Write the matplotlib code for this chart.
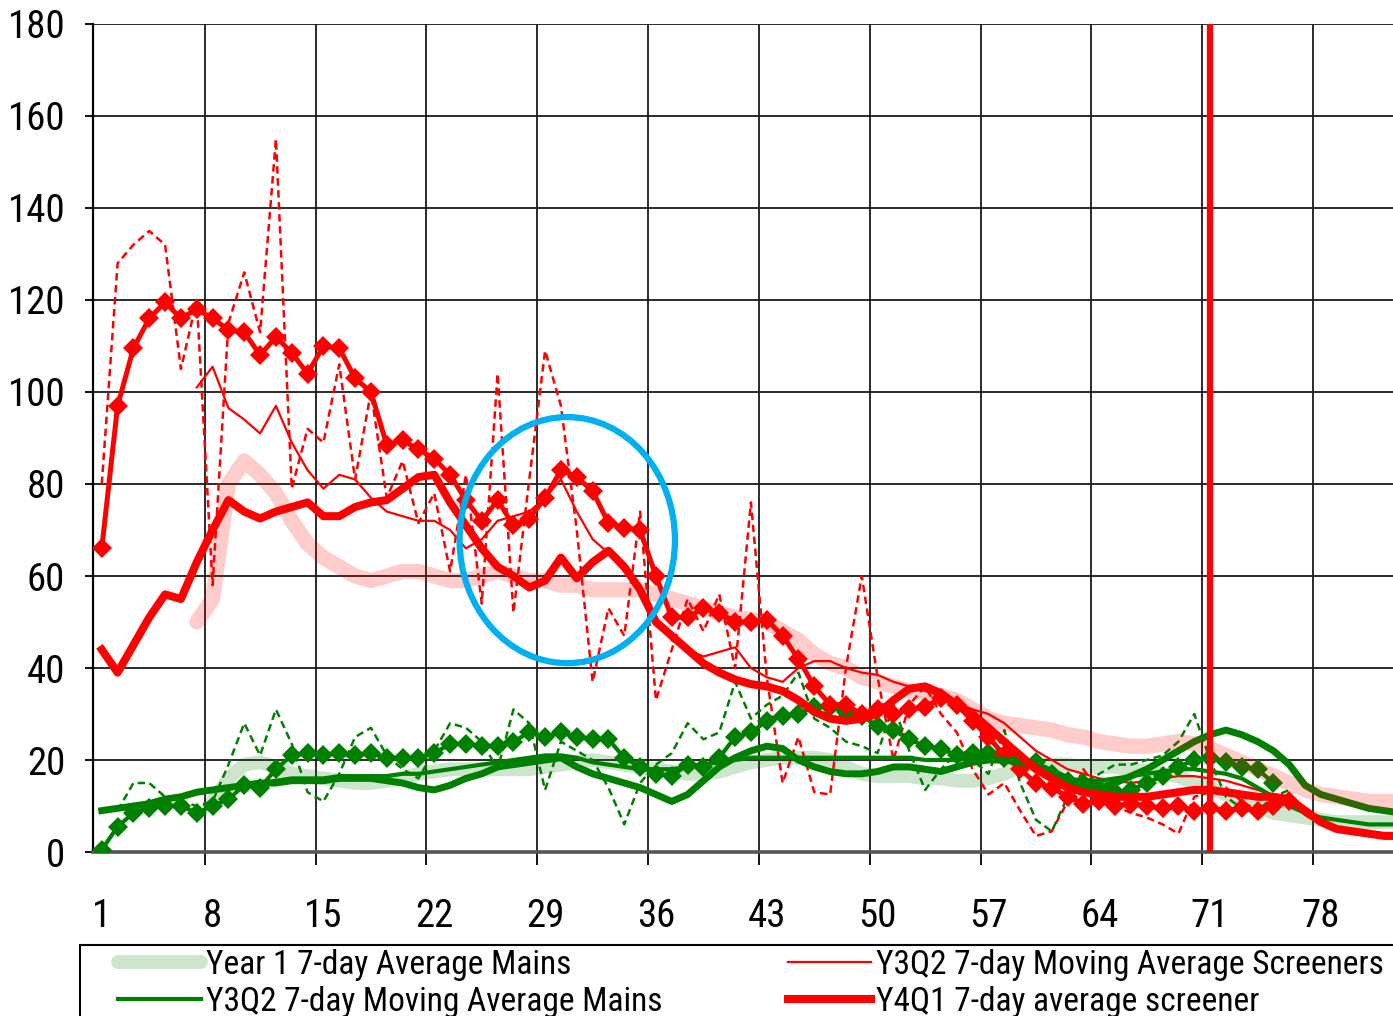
import numpy as np
import matplotlib
matplotlib.use("Agg")
import matplotlib.pyplot as plt
from matplotlib import font_manager
from matplotlib.patches import Ellipse, Rectangle

# narrow face like the original (Arial Narrow); take the first one installed
available = {f.name for f in font_manager.fontManager.ttflist}
narrow = [n for n in ["Liberation Sans Narrow", "Arial Narrow", "Roboto Condensed",
                      "Archivo Narrow", "PT Sans Narrow"] if n in available]
plt.rcParams["font.family"] = narrow[:1] + ["Liberation Sans", "DejaVu Sans"]

# ---- data (day index starts at the given day) ----
year1_screeners_start = 7
year1_screeners = [50, 55, 80, 85, 82, 78, 72, 67, 64, 62, 60, 59, 60, 61, 61, 60, 59, 59, 60, 61,
                   60, 59, 59, 58, 58, 57, 57, 57, 57, 56, 55, 54, 53, 52, 51, 50.5, 50, 48, 46, 43,
                   41, 40, 38, 37, 36, 35, 34.5, 34, 33, 31, 29, 28, 27.5, 27, 26.5, 25.5, 25, 24,
                   23.5, 23, 23, 23.5, 24, 23.5, 22.5, 21, 19.5, 18, 16.5, 15, 13.5, 12.5, 12, 11.5,
                   11, 11, 11]

year1_mains_start = 8
year1_mains = [11, 16, 19, 19.5, 18.5, 17, 16.5, 16, 15.5, 15, 15, 15.5, 16, 17, 17.5, 18, 18, 18,
               18, 18, 18, 18.5, 19, 19.5, 20, 19.5, 19, 18.5, 18, 17.5, 17, 17, 17.5, 18.5, 19.5,
               20, 20.5, 20.5, 20.5, 20, 18.5, 17, 16.5, 16.5, 16.5, 16, 16, 15.5, 15.5, 16, 17,
               18.5, 19, 19, 19, 18.5, 18.5, 18.5, 18, 17.5, 17, 16.5, 15, 14, 12.5, 11, 10, 8.5,
               8, 7.5, 7, 6.5, 6.5, 6.5, 6.5, 6.5]

y3q2_screeners_daily_start = 1
y3q2_screeners_daily = [80, 128, 132, 135, 132, 105, 120, 58, 115, 126, 113, 155, 79, 92, 89, 106,
                        81, 100, 77, 85, 71.5, 78, 61, 82, 54, 104, 52, 81, 109, 97, 70, 37, 53, 47,
                        74, 33, 44, 55, 48, 56, 40, 76, 38, 15, 25, 13, 12.5, 40, 60, 38, 20, 32, 36,
                        30, 26, 18, 12.5, 15, 9, 3.5, 4.5, 11, 18, 13, 10, 8.5, 7.5, 6, 4, 12, 13,
                        14, 11, 9, 11, 12]

y3q2_mains_daily_start = 2
y3q2_mains_daily = [9, 15, 15, 12, 11, 10, 11, 19, 28, 21, 31, 23.5, 13, 11, 17, 25, 27, 21, 18, 16,
                    22, 28, 27, 24, 18, 31, 28, 13.5, 24, 22, 20, 14, 6, 15, 19, 21.5, 28, 24.5, 26,
                    37, 29, 32, 34, 39, 29, 27, 24, 23, 21.5, 32, 22, 13.5, 18, 21.5, 20, 17, 26.5,
                    15, 7, 4.5, 12, 15, 17, 19, 19, 20, 21, 24, 30, 20, 12, 9.5, 9, 12, 13.5]

y3q2_screeners_ma_start = 7
y3q2_screeners_ma = [101, 105.5, 96.5, 94, 91, 97, 89, 83, 79, 82, 81, 77, 74, 73, 72, 72, 70, 66,
                     68, 72, 73, 74, 77, 81, 74, 68, 65, 61, 57, 51, 46, 44, 42.5, 43.5, 44.5, 40,
                     38, 37, 40, 41.5, 41.5, 40, 39, 38.5, 37, 36, 35, 34, 32.5, 31, 30, 28, 25, 22,
                     20, 18, 17, 16, 15.5, 15, 15.5, 16, 16.5, 16.5, 16, 15.5, 14.5, 13.5, 12.5, 11,
                     8, 6, 5, 4.5, 4, 4, 4]

y3q2_mains_ma_start = 7
y3q2_mains_ma = [13, 13.5, 14, 14.5, 15, 15.5, 16, 16, 16, 16.5, 16.5, 16.5, 16.5, 17, 17, 17.5,
                 18, 18.5, 19, 19.5, 20, 20.5, 21, 21, 20.5, 19.5, 19, 18.5, 18, 18, 18, 18.5, 19,
                 19.5, 20, 20.5, 20.5, 20.5, 20.5, 20.5, 20.5, 20.5, 20.5, 20.5, 20.5, 20.5, 20,
                 20, 20, 20.5, 21, 21, 20.5, 19, 17.5, 16, 15.5, 15.5, 16, 16.5, 17, 17.5, 18, 18,
                 17.5, 17, 16, 14, 12, 10, 8.5, 7.5, 7, 6.5, 6, 6, 6]

y4q1_screeners_daily_start = 1
y4q1_screeners_daily = [66, 97, 109.5, 116, 119.5, 116, 118, 116, 113.5, 113, 108, 112, 108.5, 104,
                        110, 109.5, 103, 100, 88.5, 89.5, 87.5, 85.5, 82, 76.5, 72, 76.5, 71, 72.5,
                        77, 83, 81.5, 78.5, 71.5, 70.5, 70, 60, 51, 51, 53, 52, 50, 50, 50.5, 47,
                        42, 36, 32, 32, 30, 31, 30, 31, 31.5, 33.5, 32, 28.5, 25, 21, 18, 15, 14, 12,
                        10.5, 11, 10, 10.5, 10, 9.5, 10, 9, 9.5, 9, 9.5, 9, 10, 11]

y4q1_screeners_avg_start = 1
y4q1_screeners_avg = [44, 39, 45, 51, 56, 55, 63, 70, 76.5, 74, 72.5, 74, 75, 76, 73, 73, 75, 76,
                      76.5, 79, 81.5, 82, 76, 71, 66, 62, 60, 57.5, 59, 64, 59.5, 63, 65.5, 62, 57,
                      50, 47, 44, 41, 39, 37.5, 36.5, 36, 35, 33, 30.5, 29, 28.5, 29, 30, 33, 35.5,
                      36, 34.5, 32, 30, 27, 24, 21, 18, 16, 14, 13, 12.5, 12, 12, 12, 12.5, 13, 13.5,
                      13.5, 13, 12.5, 12, 12, 11.5, 9, 6.5, 5, 4.5, 4, 3.5, 3.5]

y4q1_mains_daily_start = 1
y4q1_mains_daily = [0.5, 5.5, 8.5, 9.5, 10, 10, 8.5, 10, 11.5, 14.5, 14, 18, 21, 21.5, 21, 21.5, 21,
                    21.5, 20.5, 20.5, 20.5, 21.5, 23.5, 23.5, 23, 23, 24, 26, 25, 26, 25, 24.5, 24.5,
                    20.5, 18.5, 17, 16.5, 19, 18.5, 20.5, 25, 26, 28.5, 29.5, 30, 31.5, 31.5, 30.5,
                    29.5, 27.5, 26.5, 24.5, 23, 22.5, 21, 21.5, 21.5, 20.5, 20, 19.5, 17, 15.5, 15,
                    14, 13, 13.5, 15, 16.5, 18.5, 20, 20.5, 19.5, 18.5, 18, 15]

y4q1_mains_avg_start = 1
y4q1_mains_avg = [9, 9.5, 10, 10.5, 11.5, 12, 13, 13.5, 14, 14.5, 15, 15, 15.5, 15.5, 15.5, 16, 16,
                  16, 15.5, 15, 14, 13.5, 14.5, 16, 17, 18.5, 19, 19.5, 20, 20.5, 18.5, 17, 16, 15,
                  14, 12.5, 11, 12.5, 15.5, 18.5, 20.5, 22, 23, 22.5, 20, 18.5, 17.5, 17, 17, 17.5,
                  18.5, 18.5, 18, 17.5, 18.5, 19.5, 20, 20, 19.5, 19, 17.5, 16, 14.5, 14, 15, 16.5,
                  18, 20, 22, 24, 25.5, 26.5, 25.5, 24, 22, 19, 14.5, 12.5, 11.5, 10.5, 9.5, 9, 8.5]

x_tick_days = [1, 8, 15, 22, 29, 36, 43, 50, 57, 64, 71, 78]
marker_day = 71

# highlighted region (blue ring): centre day / value and size
ring_center = (30.4, 67.8)
ring_width = 13.6
ring_height = 53.5


def days(start, values):
    return np.arange(start, start + len(values))


fig = plt.figure(figsize=(13.93, 10.16), dpi=100)
ax = fig.add_axes([0.0668, 0.1614, 0.9332, 0.815])

red = "#ff0000"
green = "#008000"

# ---- Year 1 bands ----
h_y1m, = ax.plot(days(year1_mains_start, year1_mains), year1_mains, color=green, alpha=0.2, lw=10,
                 solid_capstyle="round", zorder=1)
ax.plot(days(year1_screeners_start, year1_screeners), year1_screeners, color=red, alpha=0.2, lw=11,
        solid_capstyle="round", zorder=10)

# ---- Y3Q2 daily (dashed) ----
ax.plot(days(y3q2_screeners_daily_start, y3q2_screeners_daily), y3q2_screeners_daily, color=red,
        lw=1.8, dashes=(3, 1.8), zorder=3)
ax.plot(days(y3q2_mains_daily_start, y3q2_mains_daily), y3q2_mains_daily, color=green,
        lw=1.8, dashes=(3, 1.8), zorder=3)

# ---- Y3Q2 moving averages ----
l_y3s, = ax.plot(days(y3q2_screeners_ma_start, y3q2_screeners_ma), y3q2_screeners_ma, color=red,
                 lw=1.6, zorder=4)
l_y3m, = ax.plot(days(y3q2_mains_ma_start, y3q2_mains_ma), y3q2_mains_ma, color=green,
                 lw=3, zorder=4)

# ---- Y4Q1 daily (diamonds) ----
ax.plot(days(y4q1_mains_daily_start, y4q1_mains_daily), y4q1_mains_daily, color=green, lw=3,
        marker="D", ms=10, mew=0, zorder=5)
ax.plot(days(y4q1_screeners_daily_start, y4q1_screeners_daily), y4q1_screeners_daily, color=red,
        lw=3.6, marker="D", ms=10, mew=0, zorder=6)

# ---- Y4Q1 averages ----
ax.plot(days(y4q1_mains_avg_start, y4q1_mains_avg), y4q1_mains_avg, color=green, lw=5, zorder=7)
l_y4s, = ax.plot(days(y4q1_screeners_avg_start, y4q1_screeners_avg), y4q1_screeners_avg, color=red,
                 lw=5.8, zorder=7)

ax.axvline(marker_day, color=red, lw=4.5, zorder=12)

ax.add_patch(Ellipse(ring_center, ring_width, ring_height, fill=False, ec="#00b0f0", lw=4.5,
                     zorder=13))

# ---- axes ----
ax.set_xlim(0.45, 82.55)
ax.set_ylim(0, 180)
ax.set_yticks(np.arange(0, 181, 20))
ax.set_xticks(x_tick_days)
ax.set_xticks(np.arange(7.5, 82, 7), minor=True)
ax.grid(True, which="major", axis="y", color="#1a1a1a", lw=1.3, zorder=0)
ax.grid(True, which="minor", axis="x", color="#1a1a1a", lw=1.3, zorder=0)
ax.tick_params(axis="x", which="major", length=0, pad=33, labelsize=28)
ax.tick_params(axis="x", which="minor", length=9, width=1.3, direction="out")
ax.tick_params(axis="y", length=6, width=1.3, pad=14, labelsize=28)
ax.spines["top"].set_visible(False)
ax.spines["right"].set_visible(False)
ax.spines["left"].set_linewidth(1.6)
ax.spines["bottom"].set_linewidth(2.6)
ax.spines["bottom"].set_color("#555555")
ax.set_axisbelow(True)

# ---- legend box (its lower edge falls outside the picture) ----
fig.add_artist(Rectangle((80 / 1393, -0.05), 1.0, 1 - 945 / 1016 + 0.05,
                         transform=fig.transFigure, fill=False, ec="black", lw=1.5))
fig.legend([h_y1m, l_y3m, l_y3s, l_y4s],
           ["Year 1 7-day Average Mains", "Y3Q2 7-day Moving Average Mains",
            "Y3Q2 7-day Moving Average Screeners", "Y4Q1 7-day average screener"],
           ncol=2, loc="upper left", bbox_to_anchor=(118 / 1393, 1 - 949 / 1016),
           borderaxespad=0, borderpad=0, fontsize=24, frameon=False,
           handlelength=2.5, handletextpad=0.15, columnspacing=3.75, labelspacing=0.15)

fig.savefig("out.png", dpi=100)
